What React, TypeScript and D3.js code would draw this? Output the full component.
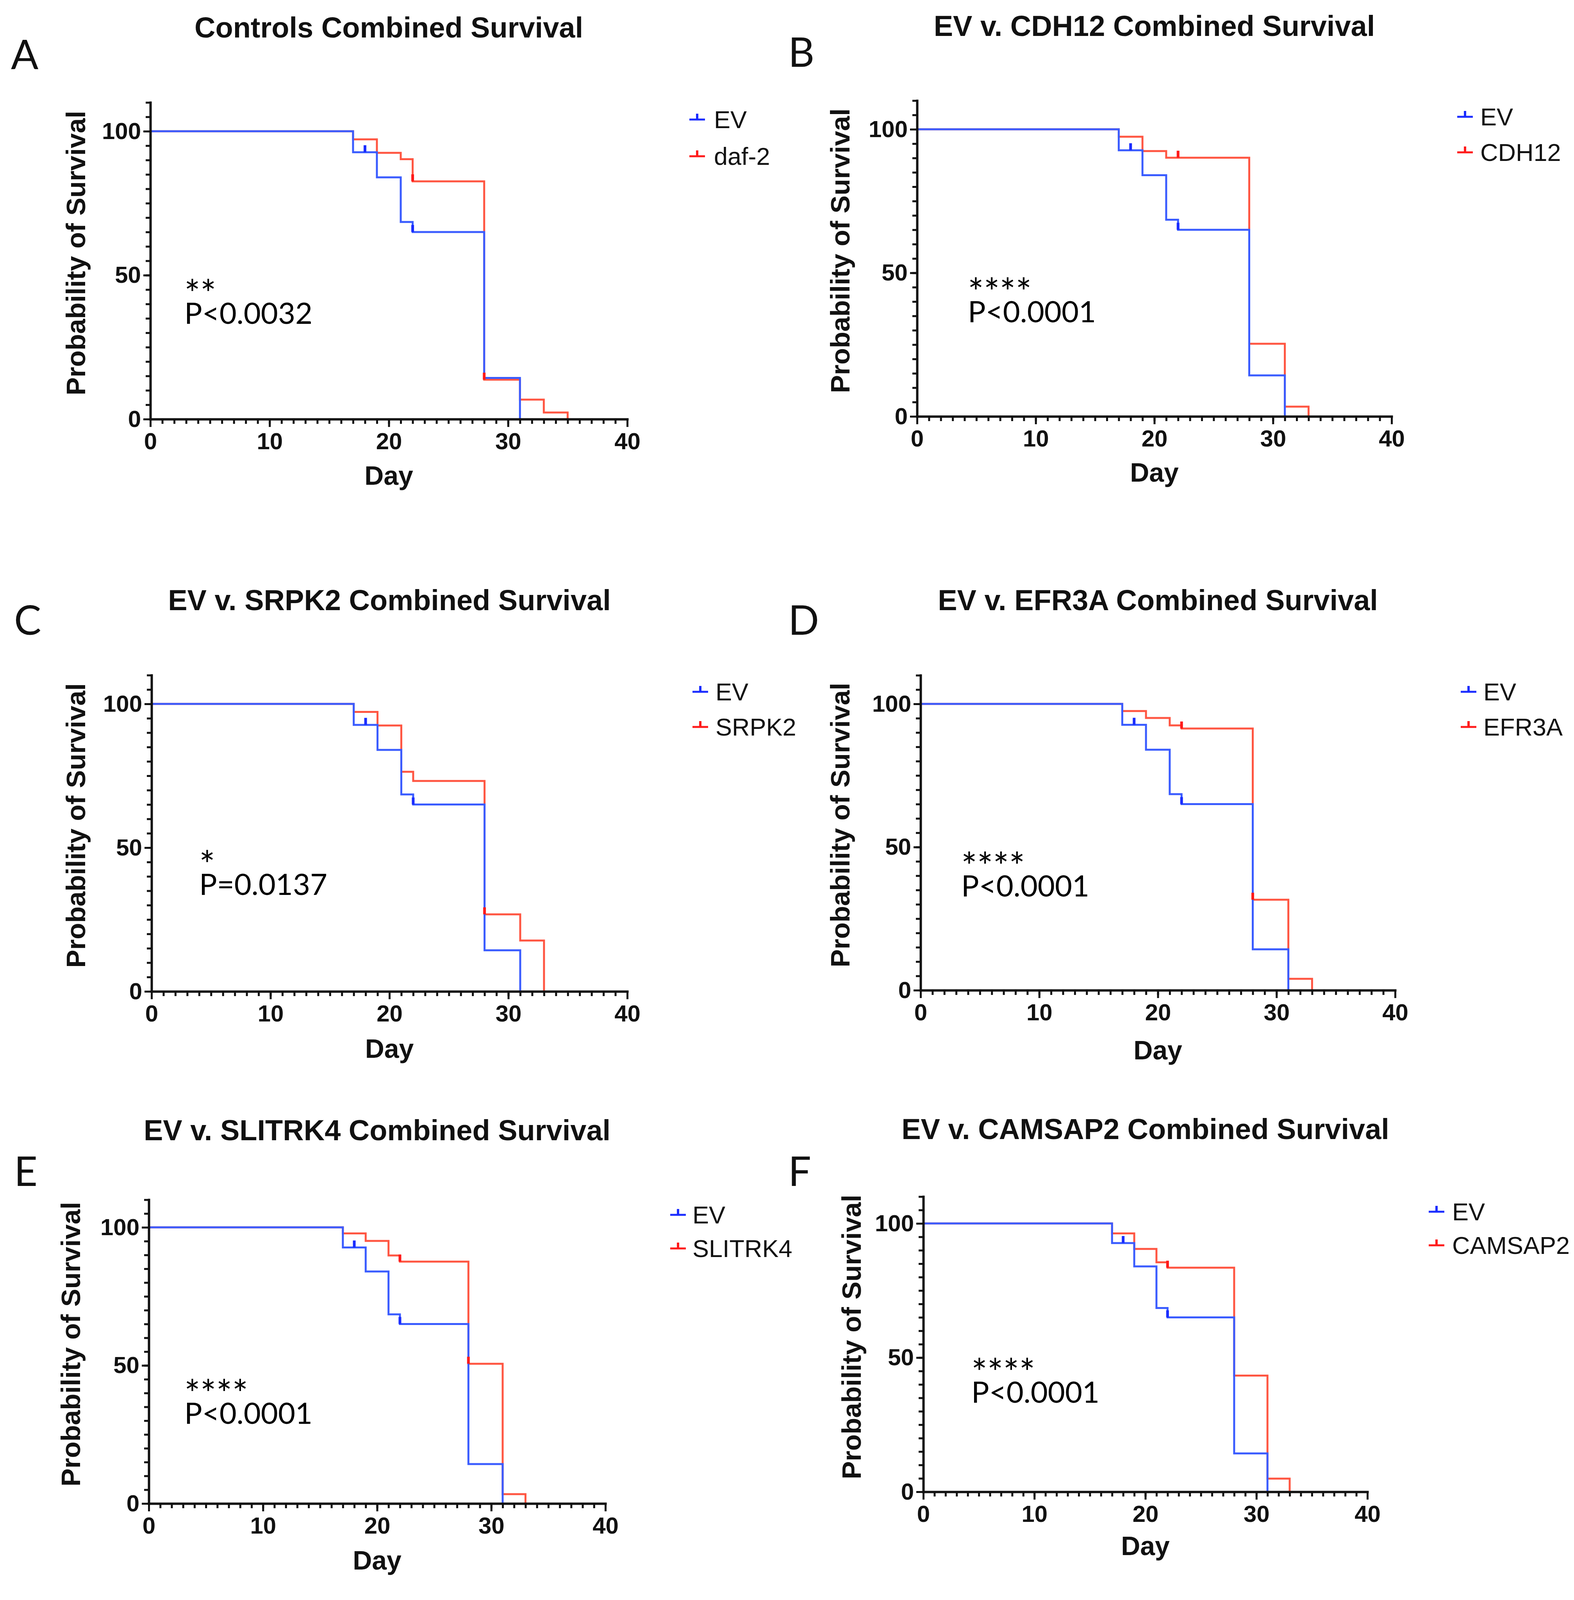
import { useEffect, useRef } from 'react'
import * as d3 from 'd3'

const W = 4030
const H = 5622

// Kaplan-Meier steps: day of each drop and % surviving after it
const evDays = [0, 17, 19, 21, 22, 28, 31]
const evSurv = [100, 92.7, 84, 68.5, 65, 14.3, 0]
const evCensor = [18, 22]

const daf2Days = [0, 17, 19, 21, 22, 28, 31, 33, 35]
const daf2Surv = [100, 97.2, 92.5, 90.3, 82.6, 13.7, 6.8, 2.3, 0]
const daf2Censor = [22, 28]

const cdh12Days = [0, 17, 19, 21, 28, 31, 33]
const cdh12Surv = [100, 97.4, 92.4, 90.1, 25.3, 3.4, 0]
const cdh12Censor = [22]

const srpk2Days = [0, 17, 19, 21, 22, 28, 31, 33]
const srpk2Surv = [100, 97.2, 92.5, 76.4, 73.2, 26.8, 17.7, 0]
const srpk2Censor = [28]

const efr3aDays = [0, 17, 19, 21, 22, 28, 31, 33]
const efr3aSurv = [100, 97.5, 95.1, 92.5, 91.4, 31.6, 4, 0]
const efr3aCensor = [22, 28]

const slitrk4Days = [0, 17, 19, 21, 22, 28, 31, 33]
const slitrk4Surv = [100, 97.8, 95.1, 89.8, 87.6, 50.6, 3.4, 0]
const slitrk4Censor = [22, 28]

const camsap2Days = [0, 17, 19, 21, 22, 28, 31, 33]
const camsap2Surv = [100, 96.3, 90.5, 85.5, 83.5, 43.3, 4.9, 0]
const camsap2Censor = [22]

const mapk10Days = [0, 17, 19, 21, 22, 28, 31]
const mapk10Surv = [100, 95.2, 88.4, 80.5, 79.5, 19.7, 0]
const mapk10Censor = [22, 28]

const aak1Days = [0, 17, 19, 21, 22, 28, 31, 33]
const aak1Surv = [100, 94.8, 87.8, 84.9, 83.8, 19.0, 2.4, 0]
const aak1Censor = [12, 19, 22]

const panelLetters = ['A', 'B', 'C', 'D', 'E', 'F', 'G', 'H']
const panelTitles = [
  'Controls Combined Survival',
  'EV v. CDH12 Combined Survival',
  'EV v. SRPK2 Combined Survival',
  'EV v. EFR3A Combined Survival',
  'EV v. SLITRK4 Combined Survival',
  'EV v. CAMSAP2 Combined Survival',
  'EV v. MAPK10 Combined Survival',
  'EV v. AAK1 Combined Survival',
]
const treatNames = ['daf-2', 'CDH12', 'SRPK2', 'EFR3A', 'SLITRK4', 'CAMSAP2', 'MAPK10', 'AAK1']
const treatDays = [daf2Days, cdh12Days, srpk2Days, efr3aDays, slitrk4Days, camsap2Days, mapk10Days, aak1Days]
const treatSurv = [daf2Surv, cdh12Surv, srpk2Surv, efr3aSurv, slitrk4Surv, camsap2Surv, mapk10Surv, aak1Surv]
const treatCensor = [daf2Censor, cdh12Censor, srpk2Censor, efr3aCensor, slitrk4Censor, camsap2Censor, mapk10Censor, aak1Censor]
const starLabels = ['**', '****', '*', '****', '****', '****', '*', '**']
const pLabels = ['P<0.0032', 'P<0.0001', 'P=0.0137', 'P<0.0001', 'P<0.0001', 'P<0.0001', 'P<0.0143', 'P<0.001']

const xTicks = [0, 10, 20, 30, 40]
const yTicks = [0, 50, 100]

// pixel layout of each panel
const layouts = [
  { x0: 385, x40: 1606, y100: 336, y0: 1073, titleY: 96, letterX: 28, letterY: 177, symX: 1765, textX: 1828, legY: 328, legGap: 94, annX: 472, pY: 829, ylabX: 194, dayY: 1241 },
  { x0: 2348, x40: 3563, y100: 331, y0: 1066, titleY: 92, letterX: 2018, letterY: 171, symX: 3731, textX: 3790, legY: 321, legGap: 91, annX: 2478, pY: 825, ylabX: 2151, dayY: 1233 },
  { x0: 388, x40: 1606, y100: 1802, y0: 2538, titleY: 1562, letterX: 36, letterY: 1625, symX: 1773, textX: 1832, legY: 1793, legGap: 90, annX: 510, pY: 2291, ylabX: 194, dayY: 2708 },
  { x0: 2357, x40: 3572, y100: 1802, y0: 2535, titleY: 1562, letterX: 2018, letterY: 1625, symX: 3740, textX: 3798, legY: 1793, legGap: 90, annX: 2461, pY: 2295, ylabX: 2151, dayY: 2712 },
  { x0: 381, x40: 1550, y100: 3142, y0: 3849, titleY: 2919, letterX: 36, letterY: 3036, symX: 1716, textX: 1773, legY: 3132, legGap: 86, annX: 472, pY: 3645, ylabX: 181, dayY: 4018 },
  { x0: 2364, x40: 3501, y100: 3132, y0: 3819, titleY: 2916, letterX: 2018, letterY: 3036, symX: 3658, textX: 3718, legY: 3124, legGap: 86, annX: 2487, pY: 3591, ylabX: 2180, dayY: 3981 },
  { x0: 362, x40: 1535, y100: 4647, y0: 5357, titleY: 4423, letterX: 32, letterY: 4486, symX: 1695, textX: 1755, legY: 4637, legGap: 108, annX: 472, pY: 5109, ylabX: 181, dayY: 5511 },
  { x0: 2377, x40: 3614, y100: 4668, y0: 5416, titleY: 4425, letterX: 2018, letterY: 4488, symX: 3782, textX: 3839, legY: 4656, legGap: 95, annX: 2461, pY: 5171, ylabX: 2183, dayY: 5587 },
]

const BLUE = '#3a5cff'
const RED = '#ff5642'
const BLUE_DARK = '#1a2cff'
const RED_DARK = '#ff1a1a'
const ARIAL = '"Liberation Sans", Arial, sans-serif'
const CALIBRI = 'Lato, "Open Sans", sans-serif'

function Panel({ idx }: { idx: number }) {
  const gRef = useRef<SVGGElement>(null)

  useEffect(() => {
    if (!gRef.current) return
    const L = layouts[idx]
    const g = d3.select(gRef.current)
    g.selectAll('*').remove()

    const yTop = L.y0 - 1.1 * (L.y0 - L.y100)
    const x = d3.scaleLinear().domain([0, 40]).range([L.x0, L.x40])
    const y = d3.scaleLinear().domain([0, 110]).range([L.y0, yTop])
    const midX = (L.x0 + L.x40) / 2

    // Title and panel letter
    g.append('text')
      .attr('x', midX).attr('y', L.titleY)
      .attr('text-anchor', 'middle')
      .attr('font-family', ARIAL).attr('font-weight', 'bold').attr('font-size', 74)
      .attr('fill', '#111')
      .text(panelTitles[idx])
    g.append('text')
      .attr('x', L.letterX).attr('y', L.letterY)
      .attr('font-family', CALIBRI).attr('font-size', 104)
      .attr('fill', '#111')
      .text(panelLetters[idx])

    // Survival curves
    const line = d3.line<[number, number]>()
      .x(d => x(d[0]))
      .y(d => y(d[1]))
      .curve(d3.curveStepAfter)

    const series = [
      { days: treatDays[idx], surv: treatSurv[idx], censor: treatCensor[idx], color: RED, dark: RED_DARK },
      { days: evDays, surv: evSurv, censor: evCensor, color: BLUE, dark: BLUE_DARK },
    ]

    series.forEach(s => {
      const pts = s.days.map((d, i) => [d, s.surv[i]] as [number, number])
      g.append('path')
        .attr('d', line(pts))
        .attr('fill', 'none')
        .attr('stroke', s.color)
        .attr('stroke-width', 5)
    })

    // Censor marks
    series.forEach(s => {
      s.censor.forEach(c => {
        const i = d3.bisectRight(s.days, c) - 1
        const v = s.surv[Math.max(0, i)]
        g.append('line')
          .attr('x1', x(c)).attr('x2', x(c))
          .attr('y1', y(v)).attr('y2', y(v) - 18)
          .attr('stroke', s.dark)
          .attr('stroke-width', 7)
      })
    })

    // Axes
    const styleAxis = (sel: d3.Selection<SVGGElement, unknown, null, undefined>) => {
      sel.selectAll('line').attr('stroke', '#111').attr('stroke-width', 5)
      sel.select('.domain').attr('stroke', '#111').attr('stroke-width', 6).attr('stroke-linecap', 'square')
      sel.selectAll('text')
        .attr('font-family', ARIAL).attr('font-weight', 'bold').attr('font-size', 60)
        .attr('fill', '#111')
    }

    const xMinor = g.append('g')
      .attr('transform', `translate(0,${L.y0})`)
      .call(d3.axisBottom(x).tickValues(d3.range(0, 41, 1)).tickSize(12).tickSizeOuter(0).tickFormat(() => ''))
    xMinor.select('.domain').remove()
    styleAxis(xMinor)

    const yMinor = g.append('g')
      .attr('transform', `translate(${L.x0},0)`)
      .call(d3.axisLeft(y).tickValues(d3.range(0, 111, 5)).tickSize(12).tickSizeOuter(0).tickFormat(() => ''))
    yMinor.select('.domain').remove()
    styleAxis(yMinor)

    const xAxis = g.append('g')
      .attr('transform', `translate(0,${L.y0})`)
      .call(d3.axisBottom(x).tickValues(xTicks).tickSize(20).tickSizeOuter(0).tickPadding(14))
    styleAxis(xAxis)

    const yAxis = g.append('g')
      .attr('transform', `translate(${L.x0},0)`)
      .call(d3.axisLeft(y).tickValues(yTicks).tickSize(18).tickSizeOuter(0).tickPadding(6))
    styleAxis(yAxis)

    // Axis titles
    g.append('text')
      .attr('x', midX).attr('y', L.dayY)
      .attr('text-anchor', 'middle')
      .attr('font-family', ARIAL).attr('font-weight', 'bold').attr('font-size', 68)
      .attr('fill', '#111')
      .text('Day')
    const ylabY = L.y0 - 0.577 * (L.y0 - L.y100)
    g.append('text')
      .attr('transform', `translate(${L.ylabX},${ylabY}) rotate(-90)`)
      .attr('text-anchor', 'middle')
      .attr('dominant-baseline', 'central')
      .attr('font-family', ARIAL).attr('font-weight', 'bold').attr('font-size', 69)
      .attr('fill', '#111')
      .text('Probability of Survival')

    // Legend
    const legend = [
      { name: 'EV', color: BLUE_DARK },
      { name: treatNames[idx], color: RED_DARK },
    ]
    legend.forEach((item, i) => {
      const by = L.legY + i * L.legGap
      const ly = by - 22
      g.append('line')
        .attr('x1', L.symX).attr('x2', L.symX + 40)
        .attr('y1', ly).attr('y2', ly)
        .attr('stroke', item.color).attr('stroke-width', 5)
      g.append('line')
        .attr('x1', L.symX + 20).attr('x2', L.symX + 20)
        .attr('y1', ly).attr('y2', ly - 15)
        .attr('stroke', item.color).attr('stroke-width', 6)
      g.append('text')
        .attr('x', L.textX).attr('y', by)
        .attr('font-family', ARIAL).attr('font-size', 63)
        .attr('fill', '#111')
        .text(item.name)
    })

    // Significance annotation (stars on one line, p-value below)
    const ann = g.append('text')
      .attr('font-family', CALIBRI)
      .attr('fill', '#000')
    ann.append('tspan')
      .attr('x', L.annX).attr('y', L.pY - 42)
      .attr('font-size', 96)
      .text(starLabels[idx])
    ann.append('tspan')
      .attr('x', L.annX).attr('y', L.pY)
      .attr('font-size', 76)
      .text(pLabels[idx])
  }, [idx])

  return <g ref={gRef} />
}

export default function App() {
  return (
    <div>
      <style>{'body{margin:0;background:#fff}'}</style>
      <svg width={W} height={H} viewBox={`0 0 ${W} ${H}`} style={{ display: 'block' }}>
        <rect width={W} height={H} fill="#fff" />
        {panelLetters.map((_, i) => (
          <Panel key={i} idx={i} />
        ))}
      </svg>
    </div>
  )
}
